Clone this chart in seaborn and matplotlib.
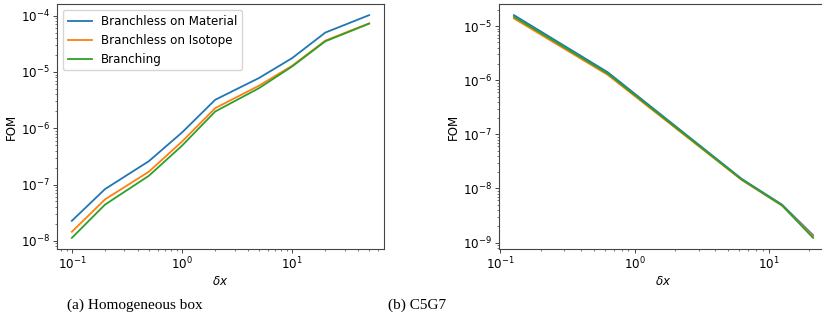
import numpy as np
import pandas as pd
import matplotlib
matplotlib.use("Agg")
import matplotlib.pyplot as plt
import seaborn as sns

# ---- data ----
series_names = ["Branchless on Material", "Branchless on Isotope", "Branching"]

box_dx = [0.1, 0.2, 0.5, 1, 2, 5, 10, 20, 50]
box_material = [2.27e-8, 8.3e-8, 2.6e-7, 8.4e-7, 3.2e-6, 7.8e-6, 1.76e-5, 5.0e-5, 1.02e-4]
box_isotope = [1.45e-8, 5.45e-8, 1.69e-7, 5.8e-7, 2.27e-6, 5.7e-6, 1.29e-5, 3.6e-5, 7.3e-5]
box_branching = [1.13e-8, 4.4e-8, 1.43e-7, 4.9e-7, 1.98e-6, 5.15e-6, 1.25e-5, 3.5e-5, 7.2e-5]

c5g7_dx = [0.126, 0.63, 6.3, 12.6, 21.42]
c5g7_material = [1.6e-5, 1.41e-6, 1.5e-8, 5.0e-9, 1.37e-9]
c5g7_isotope = [1.39e-5, 1.26e-6, 1.43e-8, 4.8e-9, 1.3e-9]
c5g7_branching = [1.49e-5, 1.33e-6, 1.46e-8, 4.85e-9, 1.22e-9]

box_xticks = [0.1, 1, 10]
box_yticks = [1e-8, 1e-7, 1e-6, 1e-5, 1e-4]
c5g7_xticks = [0.1, 1, 10]
c5g7_yticks = [1e-9, 1e-8, 1e-7, 1e-6, 1e-5]

captions = ["(a) Homogeneous box", "(b) C5G7"]

def long_df(dx, vals):
    rows = []
    for name, v in zip(series_names, vals):
        for x, y in zip(dx, v):
            rows.append({"dx": x, "FOM": y, "method": name})
    return pd.DataFrame(rows)

df_box = long_df(box_dx, [box_material, box_isotope, box_branching])
df_c5 = long_df(c5g7_dx, [c5g7_material, c5g7_isotope, c5g7_branching])

FS = 8.6
plt.rcParams["font.family"] = ["DejaVu Sans"]
plt.rcParams["font.size"] = FS

palette = ["#1f77b4", "#ff7f0e", "#2ca02c"]

fig = plt.figure(figsize=(8.22, 3.30), dpi=100)
ax1 = fig.add_axes([57 / 822, 81 / 330, 327 / 822, 245 / 330])
ax2 = fig.add_axes([499 / 822, 81 / 330, 329 / 822, 245 / 330])

for ax, df, leg, xt, yt in [(ax1, df_box, True, box_xticks, box_yticks),
                            (ax2, df_c5, False, c5g7_xticks, c5g7_yticks)]:
    sns.lineplot(data=df, x="dx", y="FOM", hue="method", hue_order=series_names,
                 palette=palette, linewidth=1.3, ax=ax, legend=leg, sort=False)
    ax.set_xscale("log")
    ax.set_yscale("log")
    xl = ax.get_xlim()
    yl = ax.get_ylim()
    ax.set_xticks(xt)
    ax.set_yticks(yt)
    ax.set_xlim(xl)
    ax.set_ylim(yl)
    ax.set_xlabel(r"$\delta x$", fontsize=FS, labelpad=2)
    ax.set_ylabel("FOM", fontsize=FS, labelpad=2)
    ax.tick_params(which="major", labelsize=FS, length=2.6, width=0.7, pad=2.5, color="#444444")
    ax.tick_params(which="minor", length=1.5, width=0.5, color="#444444")
    for s in ax.spines.values():
        s.set_color("#444444")
        s.set_linewidth(0.8)

leg = ax1.legend(loc="upper left", fontsize=FS, frameon=True)
leg.get_frame().set_edgecolor("#cccccc")

fig.text(135 / 822, 1 - 305 / 330, captions[0], ha="center", va="center",
         family="Liberation Serif", fontsize=11)
fig.text(417 / 822, 1 - 305 / 330, captions[1], ha="center", va="center",
         family="Liberation Serif", fontsize=11)

fig.savefig("out.png", dpi=100)
